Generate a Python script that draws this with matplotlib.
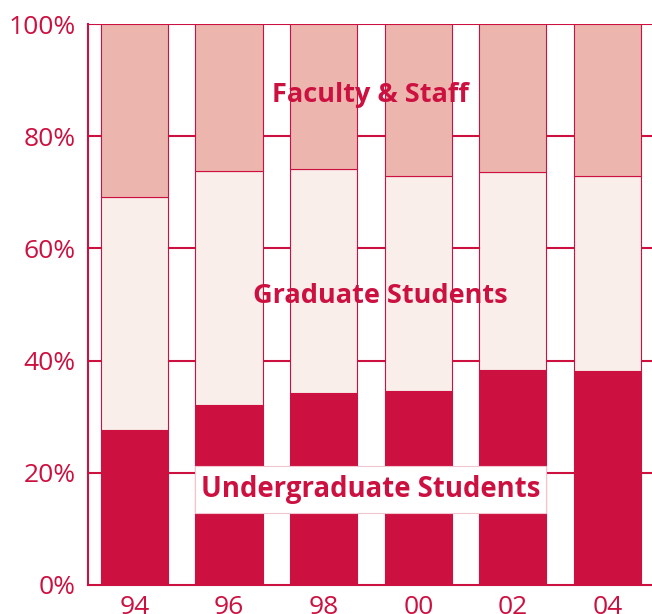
import matplotlib
matplotlib.use("Agg")
import matplotlib.pyplot as plt
from matplotlib.patches import Rectangle
import numpy as np

years = ["94", "96", "98", "00", "02", "04"]
undergrad = [27.6, 32.1, 34.2, 34.6, 38.3, 38.1]
graduate = [41.6, 41.7, 39.9, 38.3, 35.4, 34.8]
faculty = [30.8, 26.2, 25.9, 27.1, 26.3, 27.1]
yticks = [0, 20, 40, 60, 80, 100]
ytick_labels = ["0%", "20%", "40%", "60%", "80%", "100%"]

RED = "#CC1141"
C_UG = "#CC1141"
C_GR = "#FAEEEA"
C_FA = "#ECB6AE"

plt.rcParams['font.family'] = ['Open Sans', 'DejaVu Sans']

fig = plt.figure(figsize=(6.52, 6.14), dpi=100)
ax = fig.add_axes([88/652, 29/614, 1 - 88/652, (585-24)/614])

x = np.arange(len(years))
w = 0.71
ug = np.array(undergrad)
gr = np.array(graduate)
fa = np.array(faculty)

for yv in yticks[1:]:
    ax.axhline(yv, color=RED, lw=1.5, zorder=1)

ax.bar(x, ug, w, color=C_UG, edgecolor=RED, lw=0.8, zorder=2)
ax.bar(x, gr, w, bottom=ug, color=C_GR, edgecolor=RED, lw=0.8, zorder=2)
ax.bar(x, fa, w, bottom=ug + gr, color=C_FA, edgecolor=RED, lw=0.8, zorder=2)

ax.set_xlim(-0.49, 5.47)
ax.set_ylim(0, 100)
ax.set_yticks(yticks)
ax.set_yticklabels(ytick_labels)
ax.set_xticks(x)
ax.set_xticklabels(years)
ax.tick_params(axis='both', length=0, colors=RED, labelsize=19)
ax.tick_params(axis='y', pad=9)
ax.tick_params(axis='x', pad=7)

for s in ['top', 'right']:
    ax.spines[s].set_visible(False)
for s in ['left', 'bottom']:
    ax.spines[s].set_color(RED)
    ax.spines[s].set_linewidth(1.5)

ax.text(2.49, 87.3, "Faculty & Staff", color=RED, fontsize=19.5, fontweight='bold',
        ha='center', va='center', zorder=4)
ax.text(2.6, 51.5, "Graduate Students", color=RED, fontsize=19.5, fontweight='bold',
        ha='center', va='center', zorder=4)
ax.add_patch(Rectangle((1 - w/2, 12.8), 3 + w, 8.4, facecolor='white',
                       edgecolor='#F2C6CF', lw=0.8, zorder=3))
ax.text(2.5, 17.1, "Undergraduate Students", color=RED, fontsize=19.8, fontweight='bold',
        ha='center', va='center', zorder=4)

fig.savefig("out.png", dpi=100)
